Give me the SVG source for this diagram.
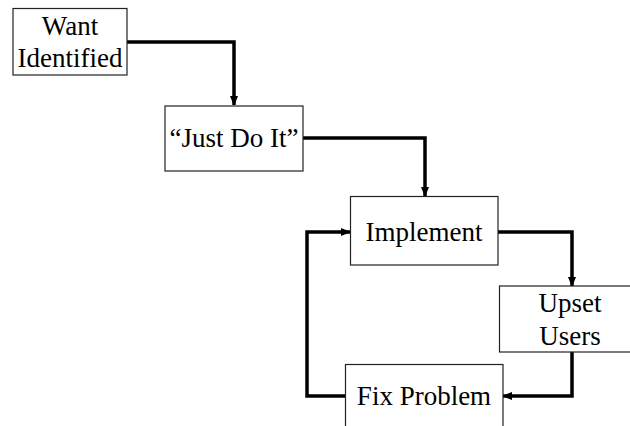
<svg xmlns="http://www.w3.org/2000/svg" width="630" height="426" viewBox="0 0 630 426">
<style>
.box{fill:#fff;stroke:#222;stroke-width:1.2}
.t{font-family:'Liberation Serif','Times New Roman',serif;font-size:27px;fill:#000;text-anchor:middle}
.c{fill:none;stroke:#000;stroke-width:3.5;stroke-linejoin:miter}
</style>
<defs>
<marker id="ah" markerWidth="10" markerHeight="10" refX="9" refY="5" orient="auto" markerUnits="userSpaceOnUse">
<path d="M0,1 L10,5 L0,9 Z" fill="#000"/>
</marker>
</defs>
<rect width="630" height="426" fill="#fff"/>
<g id="connectors">
<path class="c" d="M127,42 H234 V105" marker-end="url(#ah)"/>
<path class="c" d="M303,138 H425 V196" marker-end="url(#ah)"/>
<path class="c" d="M498,232 H572 V286" marker-end="url(#ah)"/>
<path class="c" d="M572,352 V396 H503" marker-end="url(#ah)"/>
<path class="c" d="M346,396 H307 V232 H350" marker-end="url(#ah)"/>
</g>
<g id="want">
<rect class="box" x="13" y="8.5" width="114" height="66.5"/>
<text class="t" x="70" y="35">Want</text>
<text class="t" x="70" y="67">Identified</text>
</g>
<g id="just">
<rect class="box" x="165" y="106" width="138" height="65"/>
<text class="t" x="234" y="147">“Just Do It”</text>
</g>
<g id="implement">
<rect class="box" x="350.5" y="196.5" width="147.5" height="68.5"/>
<text class="t" x="424" y="241">Implement</text>
</g>
<g id="upset">
<rect class="box" x="499.5" y="286" width="132" height="66"/>
<text class="t" x="570" y="312">Upset</text>
<text class="t" x="570" y="345">Users</text>
</g>
<g id="fix">
<rect class="box" x="345.5" y="364.5" width="157.5" height="70"/>
<text class="t" x="424" y="405">Fix Problem</text>
</g>
</svg>
